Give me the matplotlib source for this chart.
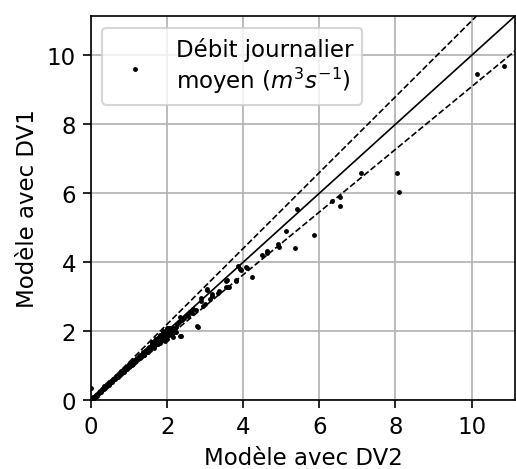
import numpy as np
import matplotlib
matplotlib.use("Agg")
import matplotlib.pyplot as plt

# debit journalier moyen, modele DV2 (x) vs modele DV1 (y)
dv2 = [0.02, 0.03, 0.05, 0.06, 0.08, 0.10, 0.11, 0.13, 0.15, 0.16, 0.18, 0.20, 0.22, 0.24,
       0.26, 0.28, 0.30, 0.31, 0.33, 0.35, 0.37, 0.39, 0.41, 0.43, 0.46, 0.48, 0.50, 0.53,
       0.55, 0.57, 0.59, 0.62, 0.64, 0.66, 0.68, 0.70, 0.72, 0.75, 0.77, 0.79, 0.81, 0.84,
       0.86, 0.88, 0.90, 0.92, 0.95, 0.97, 0.99, 1.01, 1.03, 1.05, 1.07, 1.09, 1.11, 1.13,
       1.15, 1.17, 1.19, 1.21, 1.23, 1.25, 1.27, 1.29, 1.31, 1.33, 1.35, 1.37, 1.39, 1.41,
       1.43, 1.45, 1.47, 1.49, 1.51, 1.53, 1.55, 1.57, 1.58, 1.60, 1.61, 1.63, 1.64, 1.66,
       1.67, 1.69, 1.70, 1.72, 1.73, 1.75, 1.76, 1.78, 1.79, 1.81, 1.82, 1.84, 1.85, 1.87,
       1.88, 1.90, 1.91, 1.93, 1.94, 1.96, 1.97, 1.99, 2.00, 2.02, 2.03, 2.05, 2.06, 2.08,
       2.10, 2.12, 2.00, 1.95, 1.90, 2.15, 2.20, 2.24, 2.35, 2.36, 2.80, 2.79, 0.00,
       1.30, 1.40, 1.50, 1.55, 1.65, 1.75, 1.80, 1.85, 1.92, 1.98, 2.05, 1.70, 1.80, 1.90,
       2.00, 1.60, 0.60, 0.70, 0.85, 1.00, 1.10, 1.20,
       2.15, 2.23, 2.25, 2.30, 2.34, 2.40, 2.45, 2.51, 2.55, 2.60, 2.65, 2.69, 2.75, 2.90,
       2.95, 2.99, 2.90, 3.05, 3.06, 3.12, 3.17, 3.17, 3.35, 3.34, 3.55, 3.56, 3.60, 3.54,
       3.63, 3.80, 3.82, 3.87, 3.91, 3.93, 4.07, 4.10, 4.23, 4.48, 4.63, 4.63, 4.92, 4.94,
       5.12, 5.37, 5.41, 5.85, 6.33, 6.54, 6.55, 7.09, 8.05, 8.09, 10.13, 10.85]
dv1 = [0.00, 0.05, 0.03, 0.08, 0.06, 0.11, 0.09, 0.14, 0.13, 0.18, 0.16, 0.22, 0.20, 0.27,
       0.24, 0.31, 0.29, 0.36, 0.32, 0.40, 0.35, 0.42, 0.40, 0.46, 0.44, 0.51, 0.48, 0.55,
       0.52, 0.60, 0.57, 0.64, 0.61, 0.70, 0.66, 0.74, 0.69, 0.78, 0.74, 0.83, 0.79, 0.86,
       0.82, 0.91, 0.87, 0.95, 0.90, 1.00, 0.95, 1.04, 0.98, 1.08, 1.02, 1.12, 1.07, 1.16,
       1.10, 1.19, 1.14, 1.22, 1.18, 1.27, 1.21, 1.30, 1.25, 1.34, 1.29, 1.38, 1.32, 1.42,
       1.36, 1.46, 1.40, 1.50, 1.45, 1.53, 1.48, 1.58, 1.51, 1.62, 1.55, 1.66, 1.57, 1.69,
       1.60, 1.73, 1.63, 1.76, 1.66, 1.79, 1.70, 1.82, 1.72, 1.85, 1.75, 1.88, 1.78, 1.91,
       1.80, 1.93, 1.83, 1.96, 1.86, 1.99, 1.89, 2.02, 1.92, 2.05, 1.95, 2.08, 1.98, 2.10,
       2.01, 1.90, 1.78, 1.70, 1.75, 1.84, 1.97, 1.97, 1.87, 1.85, 2.13, 2.14, 0.34,
       1.22, 1.30, 1.40, 1.44, 1.52, 1.62, 1.66, 1.71, 1.78, 1.84, 1.90, 1.78, 1.90, 2.00,
       2.10, 1.68, 0.62, 0.68, 0.88, 1.00, 1.05, 1.20,
       2.08, 2.12, 2.20, 2.25, 2.40, 2.33, 2.38, 2.47, 2.44, 2.55, 2.52, 2.65, 2.60, 2.86,
       2.74, 2.79, 2.96, 3.21, 3.20, 2.94, 3.08, 3.03, 3.15, 3.11, 3.46, 3.49, 3.29, 3.28,
       3.28, 3.45, 3.47, 3.90, 3.79, 3.77, 3.86, 3.83, 3.57, 4.22, 4.32, 4.27, 4.53, 4.43,
       4.89, 4.41, 5.55, 4.78, 5.77, 5.89, 5.64, 6.59, 6.60, 6.03, 9.45, 9.70]

lim = 11.14
ratio = 1.1

fig = plt.figure(figsize=(3.44, 3.133), dpi=150)
ax = fig.add_axes([0.1764, 0.1468, 0.8216, 0.817])
ax.set_axisbelow(True)
ax.grid(True)

xx = np.array([0, 12])
ax.plot(xx, xx, color="k", lw=0.8)
ax.plot(xx, xx * ratio, color="k", lw=0.8, ls="--")
ax.plot(xx, xx / ratio, color="k", lw=0.8, ls="--")

ax.scatter(dv2, dv1, s=1.8, c="k", label="Débit journalier\nmoyen ($m^3s^{-1}$)")

ax.set_xlim(0, lim)
ax.set_ylim(0, lim)
ax.set_xticks([0, 2, 4, 6, 8, 10])
ax.set_yticks([0, 2, 4, 6, 8, 10])
ax.tick_params(labelsize=11, length=3.7)
ax.set_xlabel("Modèle avec DV2", fontsize=11)
ax.set_ylabel("Modèle avec DV1", fontsize=11)
ax.legend(loc="upper left", fontsize=11)

fig.savefig("out.png", dpi=150)
